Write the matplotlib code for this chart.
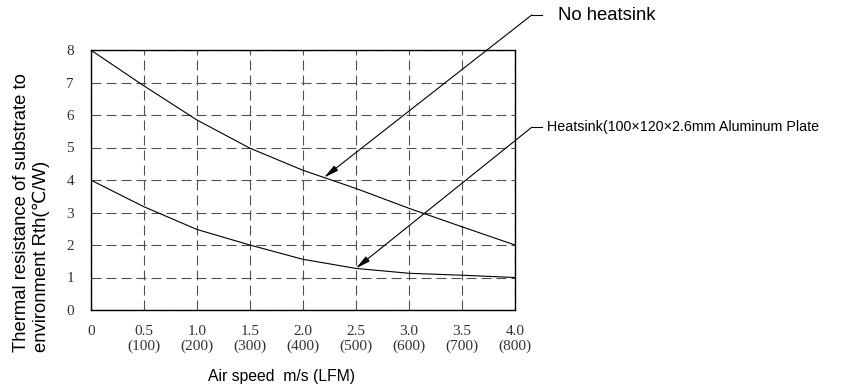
import numpy as np
import matplotlib
matplotlib.use("Agg")
import matplotlib.pyplot as plt
from matplotlib.lines import Line2D

# air speed (m/s) and thermal resistance
speed = [0.0, 0.5, 1.0, 1.5, 2.0, 2.5, 3.0, 3.5, 4.0]
rth_no_heatsink = [8.0, 6.9, 5.85, 4.98, 4.3, 3.74, 3.13, 2.56, 2.0]
rth_heatsink = [4.0, 3.18, 2.48, 2.0, 1.56, 1.28, 1.13, 1.07, 1.0]

x_ticks = [0, 0.5, 1.0, 1.5, 2.0, 2.5, 3.0, 3.5, 4.0]
x_tick_labels = ['0', '0.5\n(100)', '1.0\n(200)', '1.5\n(300)', '2.0\n(400)',
                 '2.5\n(500)', '3.0\n(600)', '3.5\n(700)', '4.0\n(800)']
y_ticks = [0, 1, 2, 3, 4, 5, 6, 7, 8]

W, H = 848, 389
fig = plt.figure(figsize=(W / 100, H / 100), dpi=100)
ax = fig.add_axes([90.7 / W, 1 - 310 / H, (515 - 90.7) / W, (310 - 50) / H])

ax.plot(speed, rth_no_heatsink, color='black', lw=0.8)
ax.plot(speed, rth_heatsink, color='black', lw=0.8)

ax.set_xlim(0, 4.0)
ax.set_ylim(0, 8)
ax.set_xticks(x_ticks)
ax.set_xticklabels(x_tick_labels, family='Liberation Serif', fontsize=11,
                   color='#333333', linespacing=1.1)
ax.set_yticks(y_ticks)
ax.set_yticklabels([str(v) for v in y_ticks], family='Liberation Serif',
                   fontsize=11, color='#333333')
ax.tick_params(length=0, pad=12)
ax.tick_params(axis='x', pad=11)
ax.grid(True, color='#505050', lw=0.8, linestyle=(0, (9, 4.5)))
for sp in ax.spines.values():
    sp.set_linewidth(1.0)
    sp.set_color('black')

# leader lines with arrows
arrow = dict(arrowstyle='-|>,head_length=0.8,head_width=0.17',
             color='black', lw=0.8, shrinkA=0, shrinkB=0)
tip1 = (2.2, np.interp(2.2, speed, rth_no_heatsink))
ax.annotate('', xy=tip1, xytext=(531.7 / W, 1 - 15 / H),
            textcoords='figure fraction', arrowprops=arrow, fontsize=11)
tip2 = (speed[5], rth_heatsink[5])
ax.annotate('', xy=tip2, xytext=(531.7 / W, 1 - 127.3 / H),
            textcoords='figure fraction', arrowprops=arrow, fontsize=11)

fig.add_artist(Line2D([531.7 / W, 541.7 / W], [1 - 15 / H, 1 - 15 / H],
                      color='black', lw=0.8))
fig.add_artist(Line2D([531.7 / W, 541.7 / W], [1 - 127.3 / H, 1 - 127.3 / H],
                      color='black', lw=0.8))

fig.text(558 / W, 1 - 16 / H, 'No heatsink', family='Liberation Sans',
         fontsize=13.3, va='center', ha='left')
fig.text(547 / W, 1 - 127.3 / H, 'Heatsink(100×120×2.6mm Aluminum Plate',
         family='Liberation Sans', fontsize=10.3, va='center', ha='left')

# axis titles
fig.text(31.5 / W, 1 - 352 / H,
         'Thermal resistance of substrate to\nenvironment Rth(℃/W)',
         family=['Liberation Sans', 'DejaVu Sans'], fontsize=13.3,
         rotation=90, ha='center', va='bottom', multialignment='left',
         linespacing=1.15)
fig.text(281.5 / W, 1 - 377 / H, 'Air speed  m/s (LFM)',
         family='Liberation Sans', fontsize=11.3, ha='center', va='center')

fig.savefig('out.png', dpi=100)
